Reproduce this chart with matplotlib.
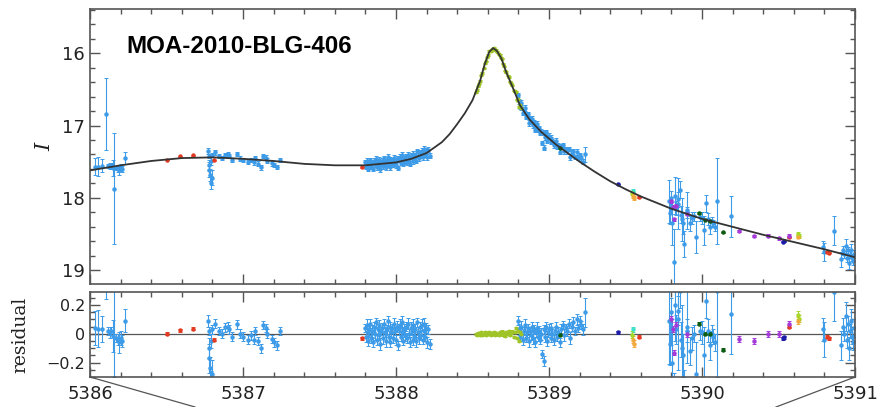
import numpy as np
import matplotlib
matplotlib.use("Agg")
import matplotlib.pyplot as plt
from matplotlib.ticker import MultipleLocator
from matplotlib.lines import Line2D

# =====================================
# Model light curve
# =====================================

model_t = [5386.0, 5386.2, 5386.4, 5386.6, 5386.8, 5387.0, 5387.2, 5387.4, 5387.6,
           5387.8, 5388.0, 5388.1, 5388.2, 5388.3, 5388.35, 5388.4, 5388.45, 5388.5,
           5388.55, 5388.58, 5388.61, 5388.635, 5388.66, 5388.69, 5388.72, 5388.77,
           5388.81, 5388.87, 5388.95, 5389.05, 5389.2, 5389.3, 5389.4, 5389.5, 5389.6,
           5389.8, 5390.0, 5390.2, 5390.4, 5390.6, 5390.8, 5391.0]
model_I = [17.62, 17.55, 17.49, 17.45, 17.44, 17.46, 17.49, 17.53, 17.55,
           17.55, 17.51, 17.46, 17.38, 17.23, 17.12, 16.98, 16.83, 16.65,
           16.38, 16.15, 15.98, 15.93, 15.97, 16.08, 16.26, 16.51,
           16.72, 16.91, 17.09, 17.27, 17.50, 17.64, 17.77, 17.88, 17.98,
           18.15, 18.29, 18.40, 18.51, 18.61, 18.71, 18.82]

# =====================================
# Data: time, residual (model - data), error
# =====================================

blue_t = [
    # early
    5386.03, 5386.05, 5386.08, 5386.107, 5386.12, 5386.13, 5386.14, 5386.15,
    5386.16, 5386.17, 5386.18, 5386.19, 5386.20, 5386.21, 5386.23,
    # second night
    5386.77, 5386.775, 5386.78, 5386.78, 5386.785, 5386.79, 5386.79, 5386.80,
    5386.80, 5386.82, 5386.84, 5386.86, 5386.88, 5386.90, 5386.91, 5386.93,
    5386.96, 5386.98, 5387.00, 5387.03, 5387.05, 5387.07, 5387.08, 5387.10,
    5387.12, 5387.13, 5387.15, 5387.16, 5387.19, 5387.20, 5387.22, 5387.24,
    # third night
    5387.800, 5387.805, 5387.810, 5387.815, 5387.820, 5387.826, 5387.832, 5387.838,
    5387.844, 5387.850, 5387.856, 5387.862, 5387.868, 5387.874, 5387.880, 5387.886,
    5387.892, 5387.898, 5387.904, 5387.910, 5387.916, 5387.922, 5387.928, 5387.934,
    5387.940, 5387.946, 5387.952, 5387.958, 5387.964, 5387.970, 5387.976, 5387.982,
    5387.988, 5387.994, 5388.000, 5388.006, 5388.012, 5388.018, 5388.024, 5388.030,
    5388.036, 5388.042, 5388.048, 5388.054, 5388.060, 5388.066, 5388.072, 5388.078,
    5388.084, 5388.090, 5388.096, 5388.102, 5388.108, 5388.114, 5388.120, 5388.126,
    5388.132, 5388.138, 5388.144, 5388.150, 5388.156, 5388.162, 5388.168, 5388.174,
    5388.180, 5388.186, 5388.192, 5388.198, 5388.204, 5388.212, 5388.220,
    # peak decline
    5388.800, 5388.805, 5388.810, 5388.815, 5388.820, 5388.830, 5388.835, 5388.840,
    5388.850, 5388.855, 5388.860, 5388.870, 5388.875, 5388.880, 5388.890, 5388.895,
    5388.900, 5388.910, 5388.915, 5388.920, 5388.930, 5388.935, 5388.940, 5388.950,
    5388.955, 5388.965, 5388.970, 5388.975, 5388.980, 5388.990, 5388.995, 5389.000,
    5389.010, 5389.015, 5389.020, 5389.030, 5389.040, 5389.045, 5389.050, 5389.060,
    5389.070, 5389.080, 5389.090, 5389.100, 5389.110, 5389.120, 5389.130, 5389.140,
    5389.150, 5389.160, 5389.170, 5389.180, 5389.190, 5389.200, 5389.210, 5389.220,
    5389.235,
    # late, noisy
    5389.786, 5389.790, 5389.795, 5389.800, 5389.815, 5389.830, 5389.845, 5389.855,
    5389.860, 5389.875, 5389.885, 5389.900, 5389.920, 5389.935, 5389.950, 5389.960,
    5389.985, 5390.000, 5390.025, 5390.040, 5390.055, 5390.065, 5390.075, 5390.085,
    5390.095, 5390.190,
    5389.805, 5389.840, 5389.868, 5389.905, 5390.010, 5389.825,
    # end
    5390.790, 5390.800, 5390.860, 5390.910, 5390.920, 5390.930, 5390.940, 5390.950,
    5390.955, 5390.960, 5390.970, 5390.975, 5390.980, 5390.990, 5390.995,
]
blue_r = [
    0.04, 0.035, 0.035, 0.74, 0.02, 0.01, 0.02, -0.015,
    -0.31, -0.03, -0.04, -0.06, -0.03, -0.05, 0.09,
    0.09, -0.10, -0.17, 0.02, -0.24, -0.05, -0.35, 0.03,
    -0.28, 0.07, 0.02, 0.0, 0.045, 0.05, 0.03, -0.02,
    0.065, 0.0, -0.02, -0.04, -0.01, -0.04, 0.02, -0.05,
    -0.10, 0.06, 0.04, 0.0, -0.035, -0.06, -0.08, 0.02,
    0.04, -0.02, 0.06, 0.01, -0.05, 0.03, 0.07, -0.03,
    0.02, -0.06, 0.05, 0.0, 0.08, -0.04, 0.03, -0.01,
    0.06, -0.07, 0.02, 0.04, -0.03, 0.07, 0.01, -0.05,
    0.03, 0.09, -0.02, 0.05, -0.06, 0.01, 0.04, -0.03,
    0.07, 0.02, -0.04, 0.05, -0.08, 0.03, 0.06, -0.02,
    0.01, 0.08, -0.05, 0.03, -0.01, 0.05, -0.03, 0.07,
    0.0, -0.06, 0.04, 0.02, -0.04, 0.06, -0.02, 0.03,
    -0.05, 0.08, 0.01, -0.03, 0.05, -0.01, 0.06, -0.04,
    0.02, 0.07, -0.02, 0.04, -0.06, 0.03, -0.07,
    0.09, 0.03, -0.02, 0.05, 0.0, -0.04, 0.02, 0.06,
    -0.03, 0.01, 0.04, -0.05, 0.02, -0.01, 0.05, -0.03,
    0.03, -0.06, 0.01, 0.04, -0.02, 0.02, -0.04, 0.0,
    -0.14, -0.19, 0.03, -0.02, 0.05, -0.05, 0.01, 0.03,
    -0.03, 0.04, 0.0, -0.04, 0.02, 0.05, -0.02, 0.01,
    -0.06, 0.03, 0.06, -0.01, 0.04, 0.02, 0.07, -0.03,
    0.05, 0.08, 0.02, 0.10, 0.04, 0.09, 0.06, 0.03,
    0.15,
    0.09, -0.07, 0.04, 0.15, -0.72, 0.03, 0.16, 0.30,
    -0.04, -0.15, -0.43, 0.02, -0.12, -0.03, 0.0, -0.28,
    0.02, 0.01, 0.23, 0.02, -0.08, 0.0, -0.02, -0.06,
    0.30, 0.14,
    -0.20, 0.10, -0.10, 0.05, -0.15, 0.20,
    0.03, -0.04, 0.29, -0.08, 0.05, 0.0, 0.12, -0.04,
    0.07, -0.10, 0.02, 0.09, -0.02, -0.06, 0.04,
]
blue_e = (
    [0.12, 0.13, 0.09, 0.50, 0.03, 0.04, 0.03, 0.11,
     0.77, 0.03, 0.04, 0.07, 0.05, 0.04, 0.08]
    + [0.04, 0.07, 0.10, 0.03, 0.08, 0.05, 0.09, 0.03, 0.10]
    + [0.03] * 23
    + [0.03, 0.035, 0.04] * 23 + [0.03, 0.035]
    + [0.03, 0.035, 0.03, 0.04] * 14 + [0.10]
    + [0.30, 0.15, 0.12, 0.10, 0.45, 0.10, 0.10, 0.12,
       0.12, 0.15, 0.18, 0.08, 0.10, 0.08, 0.06, 0.22,
       0.06, 0.08, 0.12, 0.08, 0.10, 0.06, 0.05, 0.06,
       0.60, 0.28]
    + [0.30, 0.35, 0.30, 0.25, 0.20, 0.25]
    + [0.08, 0.12, 0.20, 0.10, 0.06, 0.05, 0.10, 0.06,
       0.05, 0.08, 0.05, 0.08, 0.05, 0.05, 0.06]
)

green_t = [5388.520, 5388.528, 5388.535, 5388.542, 5388.550, 5388.558, 5388.565,
           5388.572, 5388.580, 5388.588, 5388.595, 5388.602, 5388.610, 5388.618,
           5388.625, 5388.632, 5388.640, 5388.648, 5388.655, 5388.662, 5388.670,
           5388.678, 5388.685, 5388.692, 5388.700, 5388.708, 5388.715, 5388.722,
           5388.730, 5388.738, 5388.745, 5388.752, 5388.760, 5388.768, 5388.775,
           5388.782, 5388.790, 5388.798, 5388.805, 5388.812, 5388.820]
green_r = [0.0, -0.01, 0.005, 0.0, -0.005, 0.01, -0.01, 0.0, 0.01, -0.005, 0.005,
           0.0, 0.01, -0.01, 0.005, 0.0, 0.012, -0.008, 0.005, 0.0, -0.01, 0.01,
           0.0, 0.015, -0.005, 0.005, -0.012, 0.01, 0.0, 0.02, -0.01, 0.005, 0.015,
           -0.02, 0.01, 0.04, -0.03, 0.02, -0.05, 0.01, 0.0]
green_e = [0.008] * 41

dkgreen_t = [5389.07, 5389.98, 5390.02, 5390.05, 5390.14]
dkgreen_r = [-0.005, 0.07, 0.0, 0.0, -0.11]
navy_t = [5389.45, 5390.53, 5390.535]
navy_r = [0.01, -0.03, -0.025]
purple_t = [5389.80, 5389.81, 5389.82, 5389.83, 5389.90, 5390.24, 5390.34, 5390.43,
            5390.50, 5390.57]
purple_r = [0.10, 0.035, -0.13, 0.06, 0.0, -0.035, -0.05, 0.0, 0.0, 0.07]
red_t = [5386.50, 5386.59, 5386.67, 5386.81, 5387.78, 5389.59, 5390.57, 5390.82,
         5390.83]
red_r = [0.0, 0.025, 0.035, -0.04, -0.03, -0.02, 0.05, -0.02, -0.03]
cyan_t = [5389.55]
cyan_r = [0.03]
lime_t = [5389.545, 5390.63, 5390.635]
lime_r = [-0.005, 0.13, 0.105]
orange_t = [5389.55, 5389.555, 5390.63]
orange_r = [-0.04, -0.07, 0.09]

datasets = [
    (blue_t, blue_r, blue_e, "#3d9be8", 2.2),
    (green_t, green_r, green_e, "#9ec428", 1.8),
    (red_t, red_r, [0.01] * len(red_t), "#e23b22", 2.2),
    (dkgreen_t, dkgreen_r, [0.01] * len(dkgreen_t), "#0c5c12", 2.2),
    (navy_t, navy_r, [0.01] * len(navy_t), "#1c1ca8", 2.2),
    (purple_t, purple_r, [0.02] * len(purple_t), "#a43ad8", 2.2),
    (cyan_t, cyan_r, [0.02], "#3fe0c8", 2.2),
    (lime_t, lime_r, [0.025] * len(lime_t), "#a6d82a", 2.2),
    (orange_t, orange_r, [0.025] * len(orange_t), "#f2a93b", 2.2),
]

# =====================================
# Figure
# =====================================

fig = plt.figure(figsize=(8.78, 4.07), dpi=100)
ax = fig.add_axes([90 / 878, 1 - 284 / 407, 765 / 878, 275 / 407])
axr = fig.add_axes([90 / 878, 1 - 377 / 407, 765 / 878, 85 / 407])

frame = "#555555"

for t, r, e, c, ms in datasets:
    t = np.array(t)
    r = np.array(r)
    mag = np.interp(t, model_t, model_I) - r
    ax.errorbar(t, mag, yerr=e, fmt="o", ms=ms, color=c, ecolor=c,
                elinewidth=0.8, capsize=1.2, capthick=0.7, zorder=2)
    axr.errorbar(t, r, yerr=e, fmt="o", ms=ms, color=c, ecolor=c,
                 elinewidth=0.8, capsize=1.2, capthick=0.7, zorder=2)

ax.plot(model_t, model_I, color="#333333", lw=1.3, zorder=3)
axr.axhline(0, color="#555555", lw=0.9, zorder=1)

ax.set_xlim(5386, 5391)
ax.set_ylim(19.19, 15.39)
axr.set_xlim(5386, 5391)
axr.set_ylim(-0.30, 0.29)

for a in (ax, axr):
    a.xaxis.set_major_locator(MultipleLocator(1))
    a.xaxis.set_minor_locator(MultipleLocator(0.2))
    a.tick_params(which="both", direction="in", top=True, right=True,
                  color=frame, width=1.0)
    a.tick_params(which="major", length=7)
    a.tick_params(which="minor", length=3.5)
    for s in a.spines.values():
        s.set_color(frame)
        s.set_linewidth(1.2)

ax.yaxis.set_major_locator(MultipleLocator(1))
ax.yaxis.set_minor_locator(MultipleLocator(0.2))
ax.tick_params(labelbottom=False, labelsize=13, labelcolor="#222222")
ax.set_yticks([16, 17, 18, 19])

axr.yaxis.set_major_locator(MultipleLocator(0.2))
axr.yaxis.set_minor_locator(MultipleLocator(0.05))
axr.tick_params(axis="y", labelsize=11.5, labelcolor="#222222")
axr.tick_params(axis="x", labelsize=13, labelcolor="#222222", pad=6)
axr.set_yticks([-0.2, 0, 0.2])
axr.set_yticklabels(["\u22120.2", "0", "0.2"])

ax.set_ylabel("I", family="DejaVu Serif", style="italic", fontsize=15,
              color="#222222", labelpad=6)
axr.set_ylabel("residual", family="DejaVu Serif", fontsize=13.5,
               color="#222222", labelpad=12)

ax.text(0.048, 0.862, "MOA-2010-BLG-406", transform=ax.transAxes,
        family="Liberation Sans", fontweight="bold", fontsize=17.4,
        va="center", ha="left", color="black")

# zoom guide lines under the lower panel
fig.add_artist(Line2D([90 / 878, 195 / 878], [1 - 377 / 407, 0.0],
                      color="#555555", lw=0.9))
fig.add_artist(Line2D([855 / 878, 776 / 878], [1 - 377 / 407, 0.0],
                      color="#555555", lw=0.9))

fig.savefig("out.png", dpi=100)
